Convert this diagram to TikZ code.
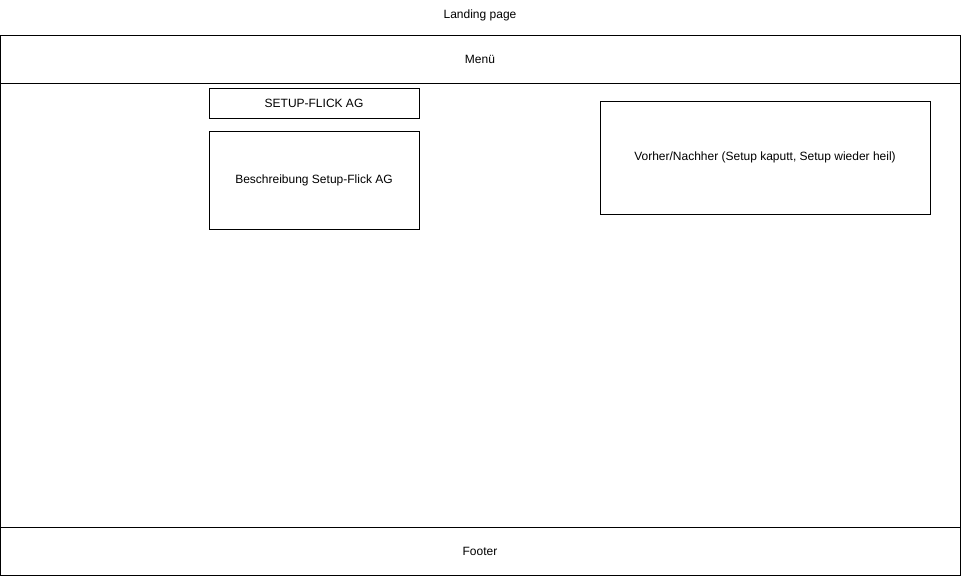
\documentclass[tikz,border=0pt]{standalone}
\usepackage{fontspec}
\setmainfont{Liberation Sans}
\usetikzlibrary{positioning}

\begin{document}
\begin{tikzpicture}[x=1pt,y=-1pt,node distance=13pt,line width=1pt,
    font=\fontsize{12pt}{14pt}\selectfont,
    box/.style={draw,inner sep=0pt,outer sep=0pt,align=center},
    band/.style={box,minimum width=960pt,minimum height=48pt}]
    \useasboundingbox (0,0) rectangle (961,576);
    \node (lbl) at (480,15) {Landing page};
    \node[box,minimum width=960pt,minimum height=540pt] (page) at (480,305) {};
    \node[band] (menu) at (480,59) {Menü};
    \node[band] (footer) at (480,551) {Footer};
    \node[box,minimum width=210pt,minimum height=30pt] (title) at (314,103) {SETUP-FLICK AG};
    \node[box,minimum width=210pt,minimum height=98pt,below=of title] (desc) {Beschreibung Setup-Flick AG};
    \node[box,minimum width=330pt,minimum height=113pt] (before) at (765,157.5) {Vorher/Nachher (Setup kaputt, Setup wieder heil)};
  \end{tikzpicture}
\end{document}
